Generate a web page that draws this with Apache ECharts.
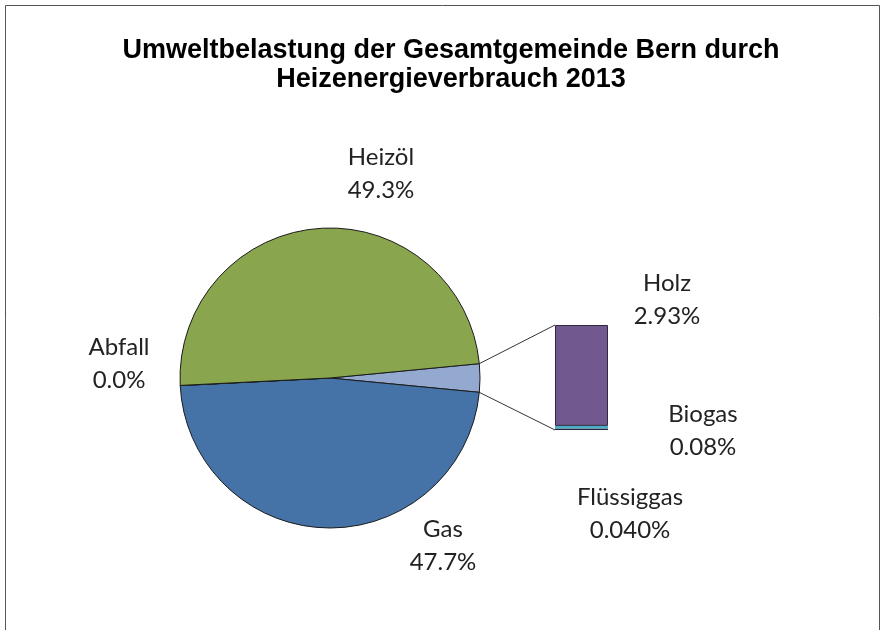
<!DOCTYPE html>
<html>
<head>
<meta charset="utf-8">
<title>Umweltbelastung Heizenergie Bern 2013</title>
<script src="https://cdn.jsdelivr.net/npm/echarts@6/dist/echarts.min.js"></script>
<style>
  html, body { margin: 0; padding: 0; background: #fff; }
  #chart { width: 885px; height: 630px; }
</style>
</head>
<body>
<div id="chart"></div>
<script>
// Daten (Anteile in %)
var pieNames = ["Rest", "Gas", "Abfall", "Heizöl"];
var pieValues = [3.05, 47.7, 0.02, 49.3];
var pieDigits = [2, 1, 1, 1];

var barNames = ["Flüssiggas", "Biogas", "Holz"];
var barValues = [0.04, 0.08, 2.93];
var barDigits = [3, 2, 2];

(function() {
  var myChart = echarts.init(document.getElementById("chart"));

  var colorsPie = ["#93a9cf", "#4572a7", "#aa4643", "#89a54e"];
  var colorsBar = ["#26263a", "#4bacc6", "#71588f"];
  var bordersBar = [0, 0, 1];

  // Label-Positionen (Mitte des zweizeiligen Labels)
  var pieLabelPos = {
    1: [443, 546],
    2: [119, 364],
    3: [381, 174]
  };
  var barLabelPos = [[630, 514], [703, 431], [667, 300]];

  var cx = 330, cy = 378, r = 150;
  var pieTotal = pieValues.reduce(function(a, b) { return a + b; }, 0);
  var barTotal = barValues.reduce(function(a, b) { return a + b; }, 0);
  // Rest-Segment zeigt mittig nach rechts
  var halfAngle = (pieValues[0] / pieTotal) * 360 / 2;

  var labelFont = {
    fontFamily: "Lato",
    fontSize: 24,
    lineHeight: 33,
    color: "#222"
  };

  var barSeries = barNames.map(function(name, i) {
    return {
      name: name,
      type: "bar",
      stack: "rest",
      barWidth: "100%",
      data: [barValues[i]],
      itemStyle: {
        color: colorsBar[i],
        borderColor: "#2b2b3a",
        borderWidth: bordersBar[i]
      },
      label: Object.assign({
        show: true,
        position: "right",
        formatter: name + "\n" + barValues[i].toFixed(barDigits[i]) + "%"
      }, labelFont),
      labelLayout: {
        x: barLabelPos[i][0],
        y: barLabelPos[i][1],
        align: "center",
        verticalAlign: "middle",
        hideOverlap: false
      },
      silent: true
    };
  });

  var option = {
    animation: false,
    title: {
      text: "Umweltbelastung der Gesamtgemeinde Bern durch\nHeizenergieverbrauch 2013",
      left: 446,
      top: 31,
      textAlign: "center",
      textStyle: {
        fontFamily: "Liberation Sans",
        fontWeight: "bold",
        fontSize: 27,
        lineHeight: 29,
        color: "#000"
      }
    },
    grid: {
      left: 555,
      top: 325,
      width: 53,
      height: 105
    },
    xAxis: {
      type: "category",
      data: ["Rest"],
      show: false
    },
    yAxis: {
      type: "value",
      min: 0,
      max: barTotal,
      show: false
    },
    series: [
      {
        name: "Heizenergie",
        type: "pie",
        center: [cx, cy],
        radius: r,
        startAngle: halfAngle,
        clockwise: true,
        minShowLabelAngle: 0,
        data: pieNames.map(function(n, i) {
          return {
            name: n,
            value: pieValues[i],
            itemStyle: { color: colorsPie[i] },
            label: { show: i !== 0 }
          };
        }),
        itemStyle: {
          borderColor: "#1a1a1a",
          borderWidth: 1
        },
        label: Object.assign({
          position: "outside",
          formatter: function(p) {
            return p.name + "\n" + pieValues[p.dataIndex].toFixed(pieDigits[p.dataIndex]) + "%";
          }
        }, labelFont),
        labelLine: { show: false },
        labelLayout: function(params) {
          var pos = pieLabelPos[params.dataIndex];
          if (!pos) return {};
          return {
            x: pos[0],
            y: pos[1],
            align: "center",
            verticalAlign: "middle"
          };
        },
        emphasis: { disabled: true },
        silent: true
      }
    ].concat(barSeries)
  };

  myChart.setOption(option);

  // Verbindungslinien vom Rest-Segment zur Saule
  var rad = halfAngle * Math.PI / 180;
  var pTop = [cx + r * Math.cos(rad), cy - r * Math.sin(rad)];
  var pBot = [cx + r * Math.cos(rad), cy + r * Math.sin(rad)];
  var barTopY = myChart.convertToPixel({ yAxisIndex: 0 }, barTotal);
  var barBotY = myChart.convertToPixel({ yAxisIndex: 0 }, 0);
  var barLeftX = option.grid.left;

  myChart.setOption({
    graphic: [
      {
        type: "rect",
        shape: { x: 5.5, y: 5.5, width: 874, height: 660 },
        style: { fill: "none", stroke: "#555", lineWidth: 1 },
        silent: true
      },
      {
        type: "line",
        shape: { x1: pTop[0], y1: pTop[1], x2: barLeftX, y2: barTopY },
        style: { stroke: "#333", lineWidth: 1 },
        silent: true
      },
      {
        type: "line",
        shape: { x1: pBot[0], y1: pBot[1], x2: barLeftX, y2: barBotY },
        style: { stroke: "#333", lineWidth: 1 },
        silent: true
      }
    ]
  });

  window.addEventListener("resize", function() {
    myChart.resize();
  });
})();
</script>
</body>
</html>
